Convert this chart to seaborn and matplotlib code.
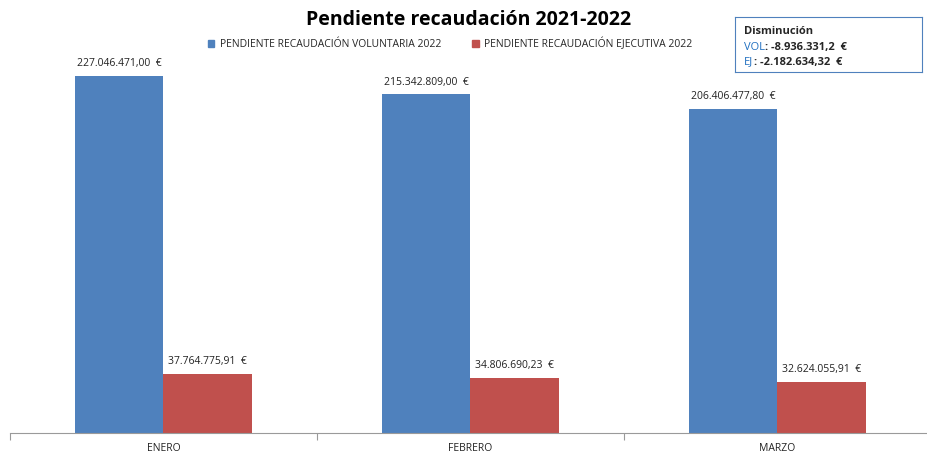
import matplotlib
matplotlib.use('Agg')
import matplotlib.pyplot as plt
import seaborn as sns
import pandas
from matplotlib.ticker import FixedLocator

months = ['ENERO', 'FEBRERO', 'MARZO']
series_names = ['PENDIENTE RECAUDACIÓN VOLUNTARIA 2022', 'PENDIENTE RECAUDACIÓN EJECUTIVA 2022']
voluntaria = [227046471.00, 215342809.00, 206406477.80]
ejecutiva = [37764775.91, 34806690.23, 32624055.91]
colors = ['#4F81BD', '#C0504D']


def es_format(value):
    text = f'{value:,.2f}'
    return text.replace(',', '#').replace('.', ',').replace('#', '.') + '  €'


sns.set_theme(style='white')
plt.rcParams['font.family'] = ['Open Sans', 'DejaVu Sans']

data = pandas.DataFrame({
    'mes': months * 2,
    'serie': [series_names[0]] * 3 + [series_names[1]] * 3,
    'valor': voluntaria + ejecutiva,
})

fig = plt.figure(figsize=(9.28, 4.53), dpi=100)
ax = fig.add_axes([10 / 928, 20 / 453, 921 / 928, 393 / 453])
sns.barplot(data=data, x='mes', y='valor', hue='serie', palette=colors,
            width=0.574, saturation=1, errorbar=None, ax=ax, legend=False,
            linewidth=0)

ax.set_ylim(0, 250e6)
ax.set_xlim(-0.5, 2.5)
for container in ax.containers:
    ax.bar_label(container, labels=[es_format(v) for v in container.datavalues],
                 padding=5, fontsize=7.5, color='#222222')

for side in ['top', 'left', 'right']:
    ax.spines[side].set_visible(False)
ax.spines['bottom'].set_color('#9a9a9a')
ax.spines['bottom'].set_linewidth(0.8)
ax.set_yticks([])
ax.set_xlabel('')
ax.set_ylabel('')
ax.set_xticks(range(3))
ax.set_xticklabels(months, fontsize=7.5, color='#222222')
ax.tick_params(axis='x', which='major', length=0, pad=7)
ax.xaxis.set_minor_locator(FixedLocator([-0.5, 0.5, 1.5, 2.5]))
ax.tick_params(axis='x', which='minor', length=5, width=0.8, color='#9a9a9a', bottom=True)

fig.text(0.505, 0.955, 'Pendiente recaudación 2021-2022', ha='center', va='center',
         fontsize=14, fontweight='bold', color='#000000')

handles = [plt.Rectangle((0, 0), 1, 1, color=c) for c in colors]
fig.legend(handles, series_names, loc='center', bbox_to_anchor=(0.485, 0.903), ncol=2,
           frameon=False, fontsize=7.5, handlelength=0.6, handleheight=0.6,
           handletextpad=0.5, columnspacing=3.0)

box_ax = fig.add_axes([735 / 928, 1 - 72 / 453, 187 / 928, 55 / 453])
box_ax.set_xticks([])
box_ax.set_yticks([])
for spine in box_ax.spines.values():
    spine.set_color('#4F81BD')
    spine.set_linewidth(0.8)
box_ax.text(0.05, 0.73, 'Disminución', fontsize=8, fontweight='bold', va='center')
vol = box_ax.text(0.05, 0.45, 'VOL', fontsize=8, color='#1F6FC0', va='center')
box_ax.annotate(': -8.936.331,2  €', xy=(1, 0.5), xycoords=vol, va='center',
                fontsize=8, fontweight='bold')
ej = box_ax.text(0.05, 0.18, 'EJ', fontsize=8, color='#1F6FC0', va='center')
box_ax.annotate(': -2.182.634,32  €', xy=(1, 0.5), xycoords=ej, va='center',
                fontsize=8, fontweight='bold')

fig.savefig('out.png', dpi=100)
